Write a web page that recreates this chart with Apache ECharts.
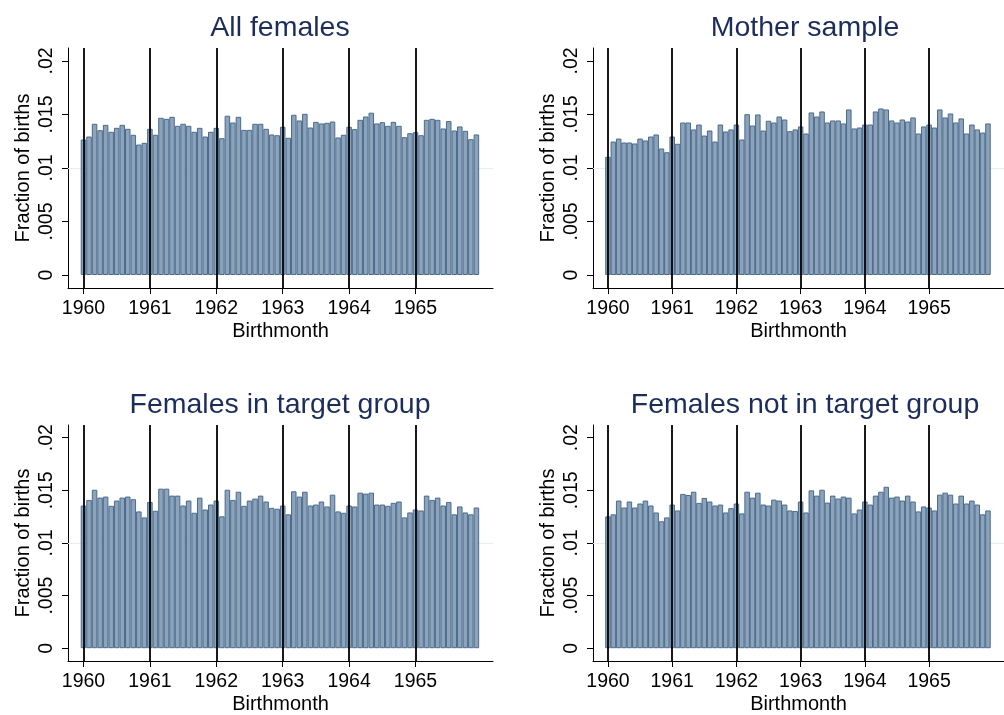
<!DOCTYPE html>
<html>
<head>
<meta charset="utf-8">
<script src="https://cdn.jsdelivr.net/npm/echarts@6/dist/echarts.min.js"></script>
<style>
html,body{margin:0;padding:0;background:#fff;}
#c{width:1004px;height:715px;}
</style>
</head>
<body>
<div id="c"></div>
<script>
// Month index: 0 = 1960m1 ... 71 = 1965m12
const months = Array.from({length: 72}, (_, i) => i);
const yearTicks = [0, 12, 24, 36, 48, 60];
const yearLabels = ['1960', '1961', '1962', '1963', '1964', '1965'];
const yTicks = [0, 0.005, 0.01, 0.015, 0.02];
const yTickLabels = ['0', '.005', '.01', '.015', '.02'];
const gridLines = [0.005, 0.01, 0.015];
const panelTitles = ['All females', 'Mother sample', 'Females in target group', 'Females not in target group'];

const allFemales = [
  .01266, .01294, .01413, .01353, .01403, .01338, .01375, .01403, .01366, .01310, .01219, .01235,
  .01366, .01310, .01469, .01459, .01478, .01394, .01413, .01394, .01338, .01375, .01294, .01338,
  .01375, .01278, .01488, .01425, .01478, .01356, .01356, .01413, .01413, .01366, .01313, .01306,
  .01385, .01282, .01497, .01444, .01506, .01378, .01431, .01416, .01422, .01434, .01285, .01310,
  .01385, .01363, .01450, .01481, .01516, .01416, .01428, .01394, .01431, .01394, .01288, .01325,
  .01334, .01306, .01450, .01459, .01450, .01369, .01438, .01350, .01388, .01347, .01269, .01313
];
const motherSample = [
  .01104, .01247, .01275, .01238, .01238, .01229, .01275, .01257, .01294, .01313, .01182, .01147,
  .01294, .01226, .01425, .01425, .01360, .01406, .01303, .01350, .01247, .01406, .01341, .01360,
  .01406, .01266, .01503, .01397, .01500, .01350, .01441, .01425, .01481, .01453, .01344, .01360,
  .01388, .01322, .01519, .01481, .01528, .01425, .01444, .01444, .01416, .01547, .01369, .01378,
  .01406, .01406, .01528, .01556, .01547, .01444, .01425, .01453, .01434, .01472, .01322, .01388,
  .01406, .01378, .01547, .01472, .01509, .01425, .01463, .01322, .01406, .01360, .01331, .01416
];
const targetGroup = [
  .01356, .01409, .01506, .01431, .01441, .01353, .01403, .01431, .01441, .01416, .01300, .01243,
  .01390, .01306, .01516, .01516, .01450, .01450, .01356, .01403, .01287, .01431, .01318, .01365,
  .01403, .01253, .01506, .01409, .01487, .01353, .01403, .01422, .01450, .01394, .01334, .01325,
  .01356, .01272, .01491, .01441, .01487, .01356, .01365, .01394, .01347, .01459, .01300, .01287,
  .01356, .01347, .01478, .01469, .01478, .01365, .01365, .01353, .01381, .01394, .01243, .01290,
  .01318, .01309, .01450, .01409, .01431, .01356, .01390, .01272, .01347, .01290, .01272, .01337
];
const notTargetGroup = [
  .01253, .01272, .01403, .01337, .01394, .01337, .01375, .01403, .01356, .01290, .01206, .01243,
  .01365, .01309, .01466, .01456, .01487, .01381, .01428, .01394, .01356, .01365, .01290, .01331,
  .01375, .01281, .01487, .01431, .01478, .01365, .01356, .01412, .01403, .01365, .01309, .01303,
  .01394, .01290, .01500, .01450, .01506, .01384, .01450, .01422, .01441, .01431, .01281, .01318,
  .01394, .01365, .01450, .01487, .01534, .01431, .01441, .01403, .01450, .01394, .01300, .01347,
  .01337, .01309, .01459, .01478, .01459, .01375, .01450, .01375, .01403, .01365, .01272, .01309
];
const panelData = [allFemales, motherSample, targetGroup, notTargetGroup];

const FONT = '"Liberation Sans", Arial, Helvetica, sans-serif';
const GRID_W = 425;
const panels = [
  {left: 68, top: 48, cx: 275, ty: 27},
  {left: 593, top: 48, cx: 800, ty: 27},
  {left: 68, top: 425, cx: 275, ty: 404},
  {left: 593, top: 425, cx: 800, ty: 404}
];

const option = {
  animation: false,
  backgroundColor: '#ffffff',
  title: panels.map((p, i) => ({
    text: panelTitles[i],
    left: p.cx, top: p.ty - 18,
    textAlign: 'center',
    textStyle: {fontFamily: FONT, fontSize: 28.5, fontWeight: 'normal', color: '#1c2d5c'}
  })),
  grid: panels.map(p => ({left: p.left, top: p.top, width: GRID_W, height: 240, containLabel: false})),
  xAxis: panels.map((p, i) => ({
    type: 'value', gridIndex: i, min: -2.8, max: 74,
    name: 'Birthmonth', nameLocation: 'middle', nameGap: 33,
    nameTextStyle: {fontFamily: FONT, fontSize: 20, color: '#000'},
    axisLine: {show: true, onZero: false, lineStyle: {color: '#000', width: 1}},
    axisTick: {show: true, length: 6, customValues: yearTicks, lineStyle: {color: '#000', width: 1}},
    axisLabel: {
      customValues: yearTicks, margin: 11, color: '#000', fontFamily: FONT, fontSize: 19.5,
      formatter: v => yearLabels[yearTicks.indexOf(Math.round(v))] || ''
    },
    splitLine: {show: false}
  })),
  yAxis: panels.map((p, i) => ({
    type: 'value', gridIndex: i, min: -0.001215, max: 0.02121,
    name: 'Fraction of births', nameLocation: 'middle', nameGap: 35,
    nameTextStyle: {fontFamily: FONT, fontSize: 20, color: '#000'},
    axisLine: {show: true, onZero: false, lineStyle: {color: '#000', width: 1}},
    axisTick: {show: true, length: 6, customValues: yTicks, lineStyle: {color: '#000', width: 1}},
    axisLabel: {
      customValues: yTicks, rotate: 90, margin: 11, color: '#000', fontFamily: FONT, fontSize: 19.5,
      formatter: v => {
        let best = 0, d = 1;
        yTicks.forEach((t, k) => { if (Math.abs(t - v) < d) { d = Math.abs(t - v); best = k; } });
        return yTickLabels[best];
      }
    },
    splitLine: {show: false}
  })),
  series: []
};

panelData.forEach((vals, i) => {
  // faint horizontal grid lines, behind the bars
  option.series.push({
    type: 'line', xAxisIndex: i, yAxisIndex: i, data: [], z: 1, silent: true,
    markLine: {
      silent: true, symbol: 'none', label: {show: false}, z: 1,
      lineStyle: {color: '#e6eef1', width: 1.2, type: 'solid'},
      data: gridLines.map(g => ({yAxis: g}))
    }
  });
  option.series.push({
    type: 'bar', xAxisIndex: i, yAxisIndex: i, z: 2,
    data: months.map((m, k) => [m, vals[k]]),
    barWidth: 5.53,
    itemStyle: {color: '#8ca3ba', borderColor: '#4a6b8e', borderWidth: 1},
    markLine: {
      silent: true, symbol: 'none', label: {show: false}, z: 5,
      lineStyle: {color: '#000', width: 1.8, type: 'solid'},
      data: yearTicks.map(t => ({xAxis: t}))
    }
  });
});

const chart = echarts.init(document.getElementById('c'), null, {renderer: 'canvas'});
chart.setOption(option);
</script>
</body>
</html>
